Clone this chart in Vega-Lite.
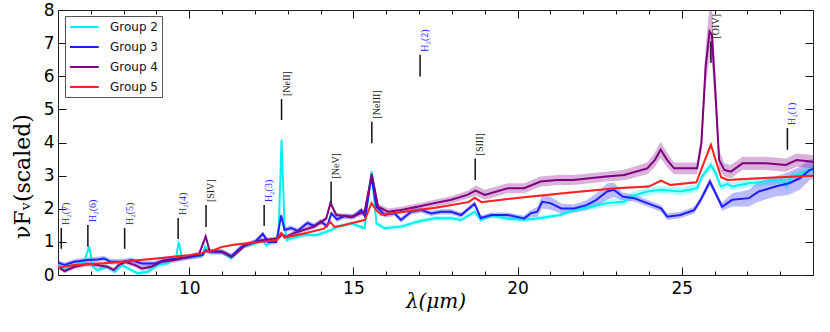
{
"$schema":"https://vega.github.io/schema/vega-lite/v6.json",
"width":755,"height":265,
"autosize":{"type":"none"},
"padding":{"left":58,"top":10,"right":17,"bottom":57},
"background":"white",
"config":{"view":{"stroke":"#222","strokeWidth":1},"axis":{"grid":false,"domain":false,"tickColor":"#111","tickWidth":1},
"legend":{"orient":"none","legendX":7,"legendY":6,"symbolType":"M-1,0H3.8","symbolSize":144,"symbolStrokeWidth":2,"labelFont":"DejaVu Sans","labelFontSize":12,"labelColor":"#111","labelOffset":27,"rowPadding":7,"padding":4,"strokeColor":"#555","fillColor":"white"}},
"datasets":{
"spec":[
{"g":"Group 2","x":6.0,"y":0.30,"lo":0.23,"hi":0.37},{"g":"Group 2","x":6.2,"y":0.15,"lo":0.08,"hi":0.22},{"g":"Group 2","x":6.5,"y":0.30,"lo":0.23,"hi":0.37},{"g":"Group 2","x":6.8,"y":0.40,"lo":0.33,"hi":0.47},{"g":"Group 2","x":6.95,"y":0.86,"lo":0.78,"hi":0.94},{"g":"Group 2","x":7.06,"y":0.25,"lo":0.18,"hi":0.32},{"g":"Group 2","x":7.2,"y":0.15,"lo":0.08,"hi":0.22},{"g":"Group 2","x":7.5,"y":0.25,"lo":0.18,"hi":0.32},{"g":"Group 2","x":7.73,"y":0.10,"lo":0.03,"hi":0.17},{"g":"Group 2","x":7.95,"y":0.30,"lo":0.23,"hi":0.37},{"g":"Group 2","x":8.13,"y":0.20,"lo":0.13,"hi":0.27},{"g":"Group 2","x":8.43,"y":0.05,"lo":0.0,"hi":0.12},{"g":"Group 2","x":8.74,"y":0.10,"lo":0.03,"hi":0.17},{"g":"Group 2","x":9.04,"y":0.30,"lo":0.23,"hi":0.37},{"g":"Group 2","x":9.35,"y":0.35,"lo":0.28,"hi":0.42},{"g":"Group 2","x":9.6,"y":0.55,"lo":0.48,"hi":0.62},{"g":"Group 2","x":9.68,"y":1.00,"lo":0.92,"hi":1.08},{"g":"Group 2","x":9.77,"y":0.55,"lo":0.48,"hi":0.62},{"g":"Group 2","x":10.07,"y":0.55,"lo":0.48,"hi":0.62},{"g":"Group 2","x":10.4,"y":0.60,"lo":0.53,"hi":0.67},{"g":"Group 2","x":10.48,"y":0.86,"lo":0.79,"hi":0.93},{"g":"Group 2","x":10.62,"y":0.70,"lo":0.63,"hi":0.77},{"g":"Group 2","x":11.0,"y":0.70,"lo":0.63,"hi":0.77},{"g":"Group 2","x":11.28,"y":0.50,"lo":0.43,"hi":0.57},{"g":"Group 2","x":11.6,"y":0.86,"lo":0.79,"hi":0.93},{"g":"Group 2","x":12.0,"y":0.95,"lo":0.88,"hi":1.02},{"g":"Group 2","x":12.2,"y":1.06,"lo":0.99,"hi":1.13},{"g":"Group 2","x":12.35,"y":0.90,"lo":0.83,"hi":0.97},{"g":"Group 2","x":12.6,"y":1.06,"lo":0.99,"hi":1.13},{"g":"Group 2","x":12.72,"y":1.20,"lo":1.12,"hi":1.28},{"g":"Group 2","x":12.81,"y":4.08,"lo":3.96,"hi":4.2},{"g":"Group 2","x":12.9,"y":1.50,"lo":1.42,"hi":1.58},{"g":"Group 2","x":12.97,"y":1.05,"lo":0.98,"hi":1.12},{"g":"Group 2","x":13.1,"y":1.11,"lo":1.04,"hi":1.18},{"g":"Group 2","x":13.5,"y":1.21,"lo":1.14,"hi":1.28},{"g":"Group 2","x":13.9,"y":1.21,"lo":1.14,"hi":1.28},{"g":"Group 2","x":14.33,"y":1.36,"lo":1.29,"hi":1.43},{"g":"Group 2","x":14.5,"y":1.45,"lo":1.38,"hi":1.52},{"g":"Group 2","x":14.93,"y":1.56,"lo":1.49,"hi":1.63},{"g":"Group 2","x":15.34,"y":1.41,"lo":1.34,"hi":1.48},{"g":"Group 2","x":15.48,"y":2.60,"lo":2.5,"hi":2.7},{"g":"Group 2","x":15.55,"y":3.12,"lo":3.02,"hi":3.22},{"g":"Group 2","x":15.7,"y":1.56,"lo":1.49,"hi":1.63},{"g":"Group 2","x":15.95,"y":1.41,"lo":1.34,"hi":1.48},{"g":"Group 2","x":16.45,"y":1.46,"lo":1.39,"hi":1.53},{"g":"Group 2","x":16.95,"y":1.61,"lo":1.54,"hi":1.68},{"g":"Group 2","x":17.47,"y":1.71,"lo":1.64,"hi":1.78},{"g":"Group 2","x":17.98,"y":1.71,"lo":1.64,"hi":1.78},{"g":"Group 2","x":18.28,"y":1.66,"lo":1.59,"hi":1.73},{"g":"Group 2","x":18.69,"y":1.91,"lo":1.84,"hi":1.98},{"g":"Group 2","x":18.88,"y":1.66,"lo":1.59,"hi":1.73},{"g":"Group 2","x":19.2,"y":1.80,"lo":1.73,"hi":1.87},{"g":"Group 2","x":19.7,"y":1.70,"lo":1.63,"hi":1.77},{"g":"Group 2","x":20.2,"y":1.67,"lo":1.6,"hi":1.74},{"g":"Group 2","x":20.7,"y":1.72,"lo":1.65,"hi":1.79},{"g":"Group 2","x":21.3,"y":1.81,"lo":1.74,"hi":1.88},{"g":"Group 2","x":21.72,"y":1.96,"lo":1.88,"hi":2.04},{"g":"Group 2","x":22.24,"y":2.06,"lo":1.96,"hi":2.16},{"g":"Group 2","x":22.73,"y":2.17,"lo":2.07,"hi":2.27},{"g":"Group 2","x":23.25,"y":2.21,"lo":2.09,"hi":2.33},{"g":"Group 2","x":23.45,"y":2.37,"lo":2.25,"hi":2.49},{"g":"Group 2","x":23.95,"y":2.52,"lo":2.4,"hi":2.64},{"g":"Group 2","x":24.37,"y":2.57,"lo":2.45,"hi":2.69},{"g":"Group 2","x":24.96,"y":2.52,"lo":2.4,"hi":2.64},{"g":"Group 2","x":25.47,"y":2.62,"lo":2.5,"hi":2.74},{"g":"Group 2","x":25.62,"y":2.97,"lo":2.84,"hi":3.1},{"g":"Group 2","x":25.89,"y":3.32,"lo":3.17,"hi":3.47},{"g":"Group 2","x":26.04,"y":3.07,"lo":2.93,"hi":3.21},{"g":"Group 2","x":26.19,"y":2.67,"lo":2.55,"hi":2.79},{"g":"Group 2","x":26.39,"y":2.75,"lo":2.63,"hi":2.87},{"g":"Group 2","x":26.54,"y":2.67,"lo":2.55,"hi":2.79},{"g":"Group 2","x":27.05,"y":2.77,"lo":2.65,"hi":2.89},{"g":"Group 2","x":27.56,"y":2.82,"lo":2.7,"hi":2.94},{"g":"Group 2","x":28.06,"y":2.87,"lo":2.75,"hi":2.99},{"g":"Group 2","x":28.2,"y":2.72,"lo":2.55,"hi":2.89},{"g":"Group 2","x":28.36,"y":2.97,"lo":2.85,"hi":3.09},{"g":"Group 2","x":28.77,"y":3.12,"lo":3.0,"hi":3.24},{"g":"Group 2","x":29.0,"y":3.17,"lo":3.05,"hi":3.29},
{"g":"Group 3","x":6.0,"y":0.37,"lo":0.29,"hi":0.45},{"g":"Group 3","x":6.2,"y":0.30,"lo":0.22,"hi":0.38},{"g":"Group 3","x":6.5,"y":0.40,"lo":0.32,"hi":0.48},{"g":"Group 3","x":6.9,"y":0.45,"lo":0.37,"hi":0.53},{"g":"Group 3","x":7.2,"y":0.47,"lo":0.39,"hi":0.55},{"g":"Group 3","x":7.4,"y":0.50,"lo":0.42,"hi":0.58},{"g":"Group 3","x":7.6,"y":0.40,"lo":0.32,"hi":0.48},{"g":"Group 3","x":7.95,"y":0.40,"lo":0.32,"hi":0.48},{"g":"Group 3","x":8.25,"y":0.45,"lo":0.37,"hi":0.53},{"g":"Group 3","x":8.55,"y":0.35,"lo":0.27,"hi":0.43},{"g":"Group 3","x":8.95,"y":0.35,"lo":0.27,"hi":0.43},{"g":"Group 3","x":9.25,"y":0.45,"lo":0.37,"hi":0.53},{"g":"Group 3","x":9.65,"y":0.50,"lo":0.42,"hi":0.58},{"g":"Group 3","x":10.07,"y":0.55,"lo":0.47,"hi":0.63},{"g":"Group 3","x":10.4,"y":0.60,"lo":0.52,"hi":0.68},{"g":"Group 3","x":10.5,"y":0.75,"lo":0.67,"hi":0.83},{"g":"Group 3","x":10.62,"y":0.70,"lo":0.62,"hi":0.78},{"g":"Group 3","x":11.0,"y":0.70,"lo":0.62,"hi":0.78},{"g":"Group 3","x":11.28,"y":0.57,"lo":0.49,"hi":0.65},{"g":"Group 3","x":11.6,"y":0.86,"lo":0.78,"hi":0.94},{"g":"Group 3","x":12.0,"y":1.00,"lo":0.92,"hi":1.08},{"g":"Group 3","x":12.24,"y":1.24,"lo":1.16,"hi":1.32},{"g":"Group 3","x":12.4,"y":1.00,"lo":0.92,"hi":1.08},{"g":"Group 3","x":12.65,"y":1.00,"lo":0.92,"hi":1.08},{"g":"Group 3","x":12.8,"y":1.80,"lo":1.68,"hi":1.92},{"g":"Group 3","x":12.9,"y":1.36,"lo":1.28,"hi":1.44},{"g":"Group 3","x":13.1,"y":1.42,"lo":1.34,"hi":1.5},{"g":"Group 3","x":13.3,"y":1.33,"lo":1.25,"hi":1.41},{"g":"Group 3","x":13.6,"y":1.57,"lo":1.49,"hi":1.65},{"g":"Group 3","x":13.8,"y":1.48,"lo":1.4,"hi":1.56},{"g":"Group 3","x":14.0,"y":1.61,"lo":1.53,"hi":1.69},{"g":"Group 3","x":14.2,"y":1.48,"lo":1.4,"hi":1.56},{"g":"Group 3","x":14.33,"y":1.86,"lo":1.78,"hi":1.94},{"g":"Group 3","x":14.5,"y":1.68,"lo":1.6,"hi":1.76},{"g":"Group 3","x":14.73,"y":1.78,"lo":1.7,"hi":1.86},{"g":"Group 3","x":15.0,"y":1.76,"lo":1.68,"hi":1.84},{"g":"Group 3","x":15.24,"y":1.96,"lo":1.88,"hi":2.04},{"g":"Group 3","x":15.36,"y":1.76,"lo":1.68,"hi":1.84},{"g":"Group 3","x":15.5,"y":2.67,"lo":2.57,"hi":2.77},{"g":"Group 3","x":15.56,"y":2.92,"lo":2.8,"hi":3.04},{"g":"Group 3","x":15.7,"y":2.06,"lo":1.96,"hi":2.16},{"g":"Group 3","x":15.95,"y":1.81,"lo":1.73,"hi":1.89},{"g":"Group 3","x":16.25,"y":1.86,"lo":1.78,"hi":1.94},{"g":"Group 3","x":16.45,"y":1.66,"lo":1.58,"hi":1.74},{"g":"Group 3","x":16.76,"y":1.91,"lo":1.83,"hi":1.99},{"g":"Group 3","x":17.07,"y":1.96,"lo":1.88,"hi":2.04},{"g":"Group 3","x":17.37,"y":1.86,"lo":1.78,"hi":1.94},{"g":"Group 3","x":17.67,"y":1.91,"lo":1.83,"hi":1.99},{"g":"Group 3","x":17.98,"y":1.91,"lo":1.83,"hi":1.99},{"g":"Group 3","x":18.28,"y":1.81,"lo":1.73,"hi":1.89},{"g":"Group 3","x":18.69,"y":2.15,"lo":2.07,"hi":2.23},{"g":"Group 3","x":18.88,"y":1.72,"lo":1.64,"hi":1.8},{"g":"Group 3","x":19.2,"y":1.81,"lo":1.73,"hi":1.89},{"g":"Group 3","x":19.7,"y":1.81,"lo":1.73,"hi":1.89},{"g":"Group 3","x":20.2,"y":1.71,"lo":1.63,"hi":1.79},{"g":"Group 3","x":20.4,"y":1.86,"lo":1.76,"hi":1.96},{"g":"Group 3","x":20.6,"y":1.91,"lo":1.76,"hi":2.06},{"g":"Group 3","x":20.75,"y":2.21,"lo":2.01,"hi":2.41},{"g":"Group 3","x":21.0,"y":2.17,"lo":1.97,"hi":2.37},{"g":"Group 3","x":21.33,"y":2.01,"lo":1.86,"hi":2.16},{"g":"Group 3","x":21.72,"y":2.01,"lo":1.89,"hi":2.13},{"g":"Group 3","x":22.1,"y":2.11,"lo":1.96,"hi":2.26},{"g":"Group 3","x":22.4,"y":2.27,"lo":2.07,"hi":2.47},{"g":"Group 3","x":22.73,"y":2.52,"lo":2.27,"hi":2.77},{"g":"Group 3","x":22.94,"y":2.57,"lo":2.35,"hi":2.79},{"g":"Group 3","x":23.2,"y":2.37,"lo":2.25,"hi":2.49},{"g":"Group 3","x":23.55,"y":2.32,"lo":2.22,"hi":2.42},{"g":"Group 3","x":23.95,"y":2.17,"lo":2.07,"hi":2.27},{"g":"Group 3","x":24.37,"y":2.01,"lo":1.91,"hi":2.11},{"g":"Group 3","x":24.56,"y":1.76,"lo":1.66,"hi":1.86},{"g":"Group 3","x":24.96,"y":1.81,"lo":1.71,"hi":1.91},{"g":"Group 3","x":25.38,"y":1.96,"lo":1.86,"hi":2.06},{"g":"Group 3","x":25.58,"y":2.27,"lo":2.17,"hi":2.37},{"g":"Group 3","x":25.86,"y":2.82,"lo":2.7,"hi":2.94},{"g":"Group 3","x":26.08,"y":2.37,"lo":2.27,"hi":2.47},{"g":"Group 3","x":26.23,"y":2.06,"lo":1.94,"hi":2.18},{"g":"Group 3","x":26.54,"y":2.27,"lo":2.07,"hi":2.47},{"g":"Group 3","x":27.05,"y":2.32,"lo":2.07,"hi":2.57},{"g":"Group 3","x":27.35,"y":2.52,"lo":2.22,"hi":2.82},{"g":"Group 3","x":27.86,"y":2.67,"lo":2.37,"hi":2.97},{"g":"Group 3","x":28.27,"y":2.77,"lo":2.42,"hi":3.12},{"g":"Group 3","x":28.6,"y":2.92,"lo":2.57,"hi":3.27},{"g":"Group 3","x":28.9,"y":3.17,"lo":2.87,"hi":3.47},{"g":"Group 3","x":29.0,"y":3.20,"lo":2.9,"hi":3.5},
{"g":"Group 4","x":6.0,"y":0.25,"lo":0.18,"hi":0.32},{"g":"Group 4","x":6.2,"y":0.12,"lo":0.05,"hi":0.19},{"g":"Group 4","x":6.5,"y":0.25,"lo":0.18,"hi":0.32},{"g":"Group 4","x":6.9,"y":0.33,"lo":0.26,"hi":0.4},{"g":"Group 4","x":7.2,"y":0.30,"lo":0.23,"hi":0.37},{"g":"Group 4","x":7.5,"y":0.25,"lo":0.18,"hi":0.32},{"g":"Group 4","x":7.7,"y":0.15,"lo":0.08,"hi":0.22},{"g":"Group 4","x":7.85,"y":0.30,"lo":0.23,"hi":0.37},{"g":"Group 4","x":8.05,"y":0.40,"lo":0.33,"hi":0.47},{"g":"Group 4","x":8.35,"y":0.30,"lo":0.23,"hi":0.37},{"g":"Group 4","x":8.55,"y":0.20,"lo":0.13,"hi":0.27},{"g":"Group 4","x":8.85,"y":0.25,"lo":0.18,"hi":0.32},{"g":"Group 4","x":9.15,"y":0.40,"lo":0.33,"hi":0.47},{"g":"Group 4","x":9.55,"y":0.45,"lo":0.38,"hi":0.52},{"g":"Group 4","x":9.95,"y":0.54,"lo":0.47,"hi":0.61},{"g":"Group 4","x":10.3,"y":0.64,"lo":0.57,"hi":0.71},{"g":"Group 4","x":10.5,"y":1.16,"lo":1.08,"hi":1.24},{"g":"Group 4","x":10.62,"y":0.72,"lo":0.65,"hi":0.79},{"g":"Group 4","x":11.0,"y":0.70,"lo":0.63,"hi":0.77},{"g":"Group 4","x":11.28,"y":0.54,"lo":0.47,"hi":0.61},{"g":"Group 4","x":11.4,"y":0.63,"lo":0.56,"hi":0.7},{"g":"Group 4","x":11.7,"y":0.90,"lo":0.83,"hi":0.97},{"g":"Group 4","x":12.2,"y":1.05,"lo":0.98,"hi":1.12},{"g":"Group 4","x":12.7,"y":1.10,"lo":1.03,"hi":1.17},{"g":"Group 4","x":12.82,"y":1.22,"lo":1.15,"hi":1.29},{"g":"Group 4","x":12.95,"y":1.15,"lo":1.08,"hi":1.22},{"g":"Group 4","x":13.2,"y":1.27,"lo":1.2,"hi":1.34},{"g":"Group 4","x":13.8,"y":1.46,"lo":1.39,"hi":1.53},{"g":"Group 4","x":14.17,"y":1.70,"lo":1.63,"hi":1.77},{"g":"Group 4","x":14.3,"y":2.17,"lo":2.09,"hi":2.25},{"g":"Group 4","x":14.48,"y":1.81,"lo":1.74,"hi":1.88},{"g":"Group 4","x":14.73,"y":1.78,"lo":1.71,"hi":1.85},{"g":"Group 4","x":14.93,"y":1.75,"lo":1.68,"hi":1.82},{"g":"Group 4","x":15.34,"y":1.91,"lo":1.81,"hi":2.01},{"g":"Group 4","x":15.56,"y":3.05,"lo":2.9,"hi":3.2},{"g":"Group 4","x":15.75,"y":2.06,"lo":1.96,"hi":2.16},{"g":"Group 4","x":16.05,"y":1.91,"lo":1.81,"hi":2.01},{"g":"Group 4","x":16.45,"y":1.96,"lo":1.86,"hi":2.06},{"g":"Group 4","x":16.95,"y":2.06,"lo":1.96,"hi":2.16},{"g":"Group 4","x":17.47,"y":2.17,"lo":2.07,"hi":2.27},{"g":"Group 4","x":17.98,"y":2.27,"lo":2.16,"hi":2.38},{"g":"Group 4","x":18.47,"y":2.42,"lo":2.3,"hi":2.54},{"g":"Group 4","x":18.72,"y":2.55,"lo":2.4,"hi":2.7},{"g":"Group 4","x":19.0,"y":2.42,"lo":2.27,"hi":2.57},{"g":"Group 4","x":19.7,"y":2.62,"lo":2.47,"hi":2.77},{"g":"Group 4","x":20.2,"y":2.62,"lo":2.47,"hi":2.77},{"g":"Group 4","x":20.7,"y":2.82,"lo":2.67,"hi":2.97},{"g":"Group 4","x":21.2,"y":2.87,"lo":2.72,"hi":3.02},{"g":"Group 4","x":21.7,"y":2.87,"lo":2.72,"hi":3.02},{"g":"Group 4","x":22.2,"y":2.92,"lo":2.77,"hi":3.07},{"g":"Group 4","x":22.7,"y":2.97,"lo":2.82,"hi":3.12},{"g":"Group 4","x":23.25,"y":3.02,"lo":2.86,"hi":3.18},{"g":"Group 4","x":23.95,"y":3.22,"lo":3.04,"hi":3.4},{"g":"Group 4","x":24.18,"y":3.47,"lo":3.25,"hi":3.69},{"g":"Group 4","x":24.36,"y":3.78,"lo":3.53,"hi":4.03},{"g":"Group 4","x":24.56,"y":3.47,"lo":3.25,"hi":3.69},{"g":"Group 4","x":24.77,"y":3.22,"lo":3.04,"hi":3.4},{"g":"Group 4","x":25.47,"y":3.22,"lo":3.04,"hi":3.4},{"g":"Group 4","x":25.6,"y":3.98,"lo":3.68,"hi":4.28},{"g":"Group 4","x":25.73,"y":6.30,"lo":5.7,"hi":6.9},{"g":"Group 4","x":25.85,"y":7.35,"lo":6.55,"hi":8.15},{"g":"Group 4","x":25.92,"y":7.25,"lo":6.45,"hi":8.05},{"g":"Group 4","x":26.04,"y":5.30,"lo":4.7,"hi":5.9},{"g":"Group 4","x":26.14,"y":3.47,"lo":3.17,"hi":3.77},{"g":"Group 4","x":26.3,"y":3.17,"lo":2.97,"hi":3.37},{"g":"Group 4","x":26.5,"y":3.12,"lo":2.92,"hi":3.32},{"g":"Group 4","x":26.85,"y":3.37,"lo":3.17,"hi":3.57},{"g":"Group 4","x":27.56,"y":3.37,"lo":3.17,"hi":3.57},{"g":"Group 4","x":28.17,"y":3.32,"lo":3.12,"hi":3.52},{"g":"Group 4","x":28.5,"y":3.47,"lo":3.27,"hi":3.67},{"g":"Group 4","x":29.0,"y":3.42,"lo":3.22,"hi":3.62},
{"g":"Group 5","x":6.0,"y":0.22,"lo":0.19,"hi":0.25},{"g":"Group 5","x":6.5,"y":0.30,"lo":0.27,"hi":0.33},{"g":"Group 5","x":7.0,"y":0.33,"lo":0.3,"hi":0.36},{"g":"Group 5","x":7.5,"y":0.36,"lo":0.33,"hi":0.39},{"g":"Group 5","x":8.0,"y":0.40,"lo":0.37,"hi":0.43},{"g":"Group 5","x":8.5,"y":0.45,"lo":0.42,"hi":0.48},{"g":"Group 5","x":9.0,"y":0.50,"lo":0.47,"hi":0.53},{"g":"Group 5","x":9.5,"y":0.55,"lo":0.52,"hi":0.58},{"g":"Group 5","x":10.0,"y":0.60,"lo":0.57,"hi":0.63},{"g":"Group 5","x":10.4,"y":0.66,"lo":0.63,"hi":0.69},{"g":"Group 5","x":10.5,"y":0.72,"lo":0.69,"hi":0.75},{"g":"Group 5","x":10.6,"y":0.70,"lo":0.67,"hi":0.73},{"g":"Group 5","x":11.0,"y":0.85,"lo":0.82,"hi":0.88},{"g":"Group 5","x":11.4,"y":0.92,"lo":0.89,"hi":0.95},{"g":"Group 5","x":12.2,"y":1.00,"lo":0.97,"hi":1.03},{"g":"Group 5","x":12.65,"y":1.05,"lo":1.02,"hi":1.08},{"g":"Group 5","x":12.8,"y":1.27,"lo":1.24,"hi":1.3},{"g":"Group 5","x":12.9,"y":1.13,"lo":1.1,"hi":1.16},{"g":"Group 5","x":13.5,"y":1.25,"lo":1.22,"hi":1.28},{"g":"Group 5","x":14.1,"y":1.40,"lo":1.37,"hi":1.43},{"g":"Group 5","x":14.3,"y":1.60,"lo":1.57,"hi":1.63},{"g":"Group 5","x":14.42,"y":1.45,"lo":1.42,"hi":1.48},{"g":"Group 5","x":14.7,"y":1.50,"lo":1.47,"hi":1.53},{"g":"Group 5","x":15.0,"y":1.58,"lo":1.55,"hi":1.61},{"g":"Group 5","x":15.35,"y":1.66,"lo":1.63,"hi":1.69},{"g":"Group 5","x":15.55,"y":2.17,"lo":2.13,"hi":2.21},{"g":"Group 5","x":15.7,"y":1.95,"lo":1.92,"hi":1.98},{"g":"Group 5","x":15.85,"y":1.82,"lo":1.79,"hi":1.85},{"g":"Group 5","x":16.5,"y":1.90,"lo":1.87,"hi":1.93},{"g":"Group 5","x":17.5,"y":2.03,"lo":2.0,"hi":2.06},{"g":"Group 5","x":18.5,"y":2.20,"lo":2.17,"hi":2.23},{"g":"Group 5","x":18.7,"y":2.33,"lo":2.3,"hi":2.36},{"g":"Group 5","x":18.9,"y":2.20,"lo":2.17,"hi":2.23},{"g":"Group 5","x":20.2,"y":2.35,"lo":2.32,"hi":2.38},{"g":"Group 5","x":21.7,"y":2.50,"lo":2.47,"hi":2.53},{"g":"Group 5","x":23.0,"y":2.62,"lo":2.59,"hi":2.65},{"g":"Group 5","x":24.0,"y":2.67,"lo":2.64,"hi":2.7},{"g":"Group 5","x":24.37,"y":2.85,"lo":2.82,"hi":2.88},{"g":"Group 5","x":24.65,"y":2.72,"lo":2.69,"hi":2.75},{"g":"Group 5","x":25.45,"y":2.80,"lo":2.77,"hi":2.83},{"g":"Group 5","x":25.62,"y":3.25,"lo":3.2,"hi":3.3},{"g":"Group 5","x":25.89,"y":3.93,"lo":3.87,"hi":3.99},{"g":"Group 5","x":26.04,"y":3.45,"lo":3.4,"hi":3.5},{"g":"Group 5","x":26.2,"y":2.95,"lo":2.92,"hi":2.98},{"g":"Group 5","x":26.4,"y":2.87,"lo":2.84,"hi":2.9},{"g":"Group 5","x":27.5,"y":2.93,"lo":2.9,"hi":2.96},{"g":"Group 5","x":29.0,"y":3.00,"lo":2.97,"hi":3.03}
],
"lines":[
{"label":"H₂(7)","c":"H2","x":6.1,"ymin":0.79,"ymax":1.42},
{"label":"H₂(6)","c":"H2","x":6.91,"ymin":0.85,"ymax":1.51},
{"label":"H₂(5)","c":"H2","x":8.03,"ymin":0.79,"ymax":1.42},
{"label":"H₂(4)","c":"H2","x":9.66,"ymin":1.09,"ymax":1.72},
{"label":"[SIV]","c":"ion","x":10.51,"ymin":1.45,"ymax":2.11},
{"label":"H₂(3)","c":"H2","x":12.28,"ymin":1.48,"ymax":2.11},
{"label":"[NeII]","c":"ion","x":12.81,"ymin":4.68,"ymax":5.31},
{"label":"[NeV]","c":"ion","x":14.32,"ymin":2.17,"ymax":2.82},
{"label":"[NeIII]","c":"ion","x":15.56,"ymin":3.98,"ymax":4.63},
{"label":"H₂(2)","c":"H2","x":17.03,"ymin":5.99,"ymax":6.65},
{"label":"[SIII]","c":"ion","x":18.71,"ymin":2.87,"ymax":3.52},
{"label":"[OIV]","c":"ion","x":25.89,"ymin":6.40,"ymax":7.05},
{"label":"H₂(1)","c":"H2","x":28.22,"ymin":3.78,"ymax":4.44}
]},
"resolve":{"axis":{"x":"independent","y":"independent"}},
"layer":[
{"data":{"name":"spec"},
 "mark":{"type":"area","fillOpacity":0.3,"clip":true},
 "encoding":{
  "x":{"field":"x","type":"quantitative","scale":{"domain":[6,29],"nice":false,"zero":false},
       "axis":{"orient":"bottom","values":[10,15,20,25],"ticks":false,"labelFont":"DejaVu Sans","labelFontSize":17,"labelColor":"black","labelPadding":5,
               "title":"λ(μm)","titleFont":"DejaVu Serif","titleFontStyle":"italic","titleFontWeight":"normal","titleFontSize":20,"titleColor":"black","titleY":26,"titleBaseline":"middle"}},
  "y":{"field":"lo","type":"quantitative","scale":{"domain":[0,8],"nice":false,"zero":false},
       "axis":{"orient":"left","values":[0,1,2,3,4,5,6,7,8],"ticks":false,"labelFont":"DejaVu Sans","labelFontSize":17,"labelColor":"black","labelPadding":4,
               "title":"νFᵥ(scaled)","titleFont":"DejaVu Serif","titleFontWeight":"normal","titleFontSize":22,"titleColor":"black","titleAngle":270,"titleX":-36,"titleY":166,"titleBaseline":"middle","titleAlign":"center"}},
  "y2":{"field":"hi"},
  "fill":{"field":"g","type":"nominal","title":null,"scale":{"domain":["Group 2","Group 3","Group 4","Group 5"],"range":["#00ffff","#1f1fff","#800080","#ff2020"]}},
  "detail":{"field":"g"}
 }},
{"data":{"name":"spec"},
 "mark":{"type":"line","strokeWidth":2,"clip":true},
 "encoding":{
  "x":{"field":"x","type":"quantitative","scale":{"domain":[6,29],"nice":false,"zero":false},
       "axis":{"orient":"top","values":[10,15,20,25],"labels":false,"tickSize":-8,"title":null}},
  "y":{"field":"y","type":"quantitative","scale":{"domain":[0,8],"nice":false,"zero":false},
       "axis":{"orient":"right","values":[0,1,2,3,4,5,6,7,8],"labels":false,"tickSize":-8,"title":null}},
  "stroke":{"field":"g","type":"nominal","title":null,"scale":{"domain":["Group 2","Group 3","Group 4","Group 5"],"range":["#00f0f0","#1f1fff","#800080","#ff2020"]}}
 }},
{"data":{"name":"lines"},
 "mark":{"type":"rule","color":"#111","strokeWidth":1.5},
 "encoding":{
  "x":{"field":"x","type":"quantitative","scale":{"domain":[6,29],"nice":false,"zero":false},
       "axis":{"orient":"bottom","values":[10,15,20,25],"labels":false,"tickSize":-8,"title":null}},
  "y":{"field":"ymin","type":"quantitative","scale":{"domain":[0,8],"nice":false,"zero":false},
       "axis":{"orient":"left","values":[0,1,2,3,4,5,6,7,8],"labels":false,"tickSize":-8,"title":null}},
  "y2":{"field":"ymax"}
 }},
{"data":{"name":"lines"},
 "transform":[{"filter":"datum.c == 'H2'"}],
 "mark":{"type":"text","angle":270,"align":"left","baseline":"top","dx":3,"font":"Liberation Serif","fontSize":10,"color":"#2a2aff"},
 "encoding":{
  "x":{"field":"x","type":"quantitative","scale":{"domain":[6,29],"nice":false,"zero":false},
       "axis":{"orient":"bottom","values":[7,8,9,11,12,13,14,16,17,18,19,21,22,23,24,26,27,28],"labels":false,"tickSize":-4,"title":null}},
  "y":{"field":"ymax","type":"quantitative","scale":{"domain":[0,8],"nice":false,"zero":false},"axis":null},
  "text":{"field":"label"}
 }},
{"data":{"name":"lines"},
 "transform":[{"filter":"datum.c == 'ion'"}],
 "mark":{"type":"text","angle":270,"align":"left","baseline":"top","dx":3,"font":"Liberation Serif","fontSize":10,"color":"#222"},
 "encoding":{
  "x":{"field":"x","type":"quantitative","scale":{"domain":[6,29],"nice":false,"zero":false},
       "axis":{"orient":"top","values":[7,8,9,11,12,13,14,16,17,18,19,21,22,23,24,26,27,28],"labels":false,"tickSize":-4,"title":null}},
  "y":{"field":"ymax","type":"quantitative","scale":{"domain":[0,8],"nice":false,"zero":false},"axis":null},
  "text":{"field":"label"}
 }}
]
}
